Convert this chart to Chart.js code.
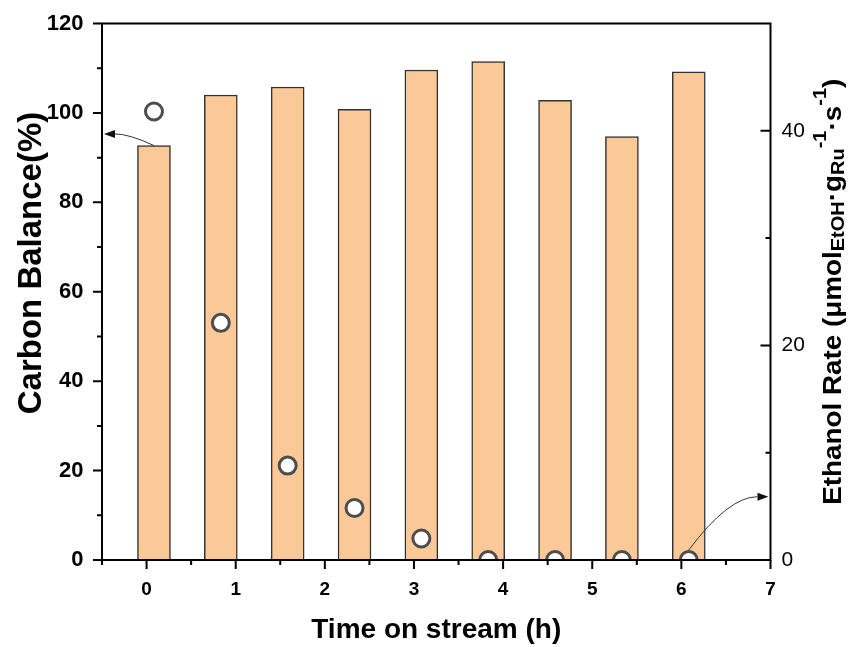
<!DOCTYPE html>
<html><head><meta charset="utf-8">
<script src="https://cdn.jsdelivr.net/npm/chart.js@4/dist/chart.umd.min.js"></script>
<style>html,body{margin:0;padding:0;background:#fff;}</style>
</head><body>
<canvas id="c" width="851" height="647"></canvas>
<script>
// ---- data ----
const timeHours = [0.083, 0.833, 1.583, 2.333, 3.083, 3.833, 4.583, 5.333, 6.083];
const carbonBalance = [92.7, 104.0, 105.8, 100.8, 109.6, 111.5, 102.8, 94.7, 109.2];
const ethanolRate = [41.8, 22.1, 8.8, 4.85, 2.0, 0, 0, 0, 0];
const xTickValues = [0, 1, 2, 3, 4, 5, 6, 7];
const xMinorValues = [-0.5, 0.5, 1.5, 2.5, 3.5, 4.5, 5.5, 6.5];
const leftTickValues = [0, 20, 40, 60, 80, 100, 120];
const leftMinorValues = [10, 30, 50, 70, 90, 110];
const rightTickValues = [0, 20, 40];
const rightMinorValues = [10, 30];
const leftArrowTarget = 95.3;   // carbon balance axis
const rightArrowTarget = 5.9;   // ethanol rate axis

const FONT = "'Liberation Sans', Arial, sans-serif";

function drawArrow(ctx, x0, y0, x1, y1) {
  const cx = x0 + 0.5 * (x1 - x0), cy = y1;
  const dir = Math.sign(x1 - cx) || 1;
  const L = 11, W = 4;
  ctx.beginPath();
  ctx.moveTo(x0, y0);
  ctx.quadraticCurveTo(cx, cy, x1 - dir * L, y1);
  ctx.stroke();
  ctx.beginPath();
  ctx.moveTo(x1, y1);
  ctx.lineTo(x1 - dir * L, y1 - W);
  ctx.lineTo(x1 - dir * L, y1 + W);
  ctx.closePath();
  ctx.fill();
}

function drawRotatedTitle(ctx, cx, cy, segs, size, stretch) {
  ctx.save();
  ctx.translate(cx, cy);
  ctx.rotate(-Math.PI / 2);
  ctx.scale(stretch, 1);
  ctx.fillStyle = '#000';
  ctx.textBaseline = 'alphabetic';
  ctx.textAlign = 'left';
  let total = 0;
  const parts = segs.map(s => {
    const fs = s.k === 'n' ? size : size * 0.72;
    ctx.font = `bold ${fs}px ${FONT}`;
    const w = ctx.measureText(s.t).width;
    total += w;
    return {t: s.t, k: s.k, fs, w};
  });
  let x = -total / 2;
  const base = size * 0.36;
  parts.forEach(p => {
    ctx.font = `bold ${p.fs}px ${FONT}`;
    let dy = 0;
    if (p.k === 'sub') dy = size * 0.1;
    if (p.k === 'sup') dy = -size * 0.58;
    ctx.fillText(p.t, x, base + dy);
    x += p.w;
  });
  ctx.restore();
}

const decor = {
  id: 'decor',
  afterDraw(chart) {
    const ctx = chart.ctx, a = chart.chartArea;
    const xs = chart.scales.x, yl = chart.scales.y, yr = chart.scales.y1;
    ctx.save();
    ctx.strokeStyle = '#000';
    ctx.lineWidth = 2;
    ctx.strokeRect(a.left, a.top, a.right - a.left, a.bottom - a.top);
    ctx.beginPath();
    leftTickValues.forEach(v => { const y = yl.getPixelForValue(v); ctx.moveTo(a.left - 9, y); ctx.lineTo(a.left, y); });
    leftMinorValues.forEach(v => { const y = yl.getPixelForValue(v); ctx.moveTo(a.left - 5, y); ctx.lineTo(a.left, y); });
    xTickValues.forEach(v => { const x = xs.getPixelForValue(v); ctx.moveTo(x, a.bottom); ctx.lineTo(x, a.bottom + 9); });
    xMinorValues.forEach(v => { const x = xs.getPixelForValue(v); ctx.moveTo(x, a.bottom); ctx.lineTo(x, a.bottom + 5); });
    rightTickValues.forEach(v => { const y = yr.getPixelForValue(v); ctx.moveTo(a.right - 10, y); ctx.lineTo(a.right, y); });
    rightMinorValues.forEach(v => { const y = yr.getPixelForValue(v); ctx.moveTo(a.right - 5, y); ctx.lineTo(a.right, y); });
    ctx.stroke();

    // annotation arrows
    ctx.strokeStyle = '#333';
    ctx.fillStyle = '#111';
    ctx.lineWidth = 1;
    drawArrow(ctx, xs.getPixelForValue(timeHours[0]), yl.getPixelForValue(carbonBalance[0]),
              a.left + 2, yl.getPixelForValue(leftArrowTarget));
    const n = timeHours.length - 1;
    drawArrow(ctx, xs.getPixelForValue(timeHours[n]), yr.getPixelForValue(ethanolRate[n]) - 10,
              a.right - 2, yr.getPixelForValue(rightArrowTarget));
    ctx.restore();

    // axis titles (left and right)
    drawRotatedTitle(ctx, 29, 263, [{t: 'Carbon Balance(%)', k: 'n'}], 33, 1.0);
    drawRotatedTitle(ctx, 832, (a.top + a.bottom) / 2, [
      {t: 'Ethanol Rate (\u03bcmol', k: 'n'},
      {t: 'EtOH', k: 'sub'},
      {t: '\u00b7g', k: 'n'},
      {t: 'Ru', k: 'sub'},
      {t: '-1', k: 'sup'},
      {t: '\u00b7s', k: 'n'},
      {t: '-1', k: 'sup'},
      {t: ')', k: 'n'}
    ], 26, 1.07);
  }
};

const chart = new Chart(document.getElementById('c'), {
  type: 'bar',
  data: {
    datasets: [
      {
        type: 'scatter', label: 'Ethanol Rate',
        data: timeHours.map((t, i) => ({x: t, y: ethanolRate[i]})),
        xAxisID: 'x', yAxisID: 'y1',
        pointRadius: 8.5, pointBorderWidth: 3,
        pointBackgroundColor: '#ffffff', pointBorderColor: '#4d4d4d',
        showLine: false, clip: 0, order: 0
      },
      {
        type: 'bar', label: 'Carbon Balance',
        data: timeHours.map((t, i) => ({x: t, y: carbonBalance[i]})),
        xAxisID: 'x', yAxisID: 'y',
        backgroundColor: '#FBC897', borderColor: '#333333', borderWidth: 1.5,
        barThickness: 33, order: 1
      }
    ]
  },
  options: {
    responsive: false, animation: false, devicePixelRatio: 1,
    layout: {padding: {top: 23.5, left: 0, right: 0, bottom: 0}},
    plugins: {legend: {display: false}, tooltip: {enabled: false}},
    scales: {
      x: {
        type: 'linear', position: 'bottom', min: -0.5, max: 7, offset: false,
        afterBuildTicks(s) { s.ticks = xTickValues.map(v => ({value: v})); },
        afterFit(s) { s.height = 87; },
        grid: {display: false, drawTicks: true, tickLength: 18, offset: false}, border: {display: false},
        ticks: {font: {family: FONT, size: 19, weight: 'bold'}, color: '#000', padding: 0, maxRotation: 0},
        title: {display: true, text: 'Time on stream (h)', color: '#000',
                font: {family: FONT, size: 28, weight: 'bold'}, padding: {top: 0, bottom: 0}}
      },
      y: {
        type: 'linear', position: 'left', min: 0, max: 120,
        afterBuildTicks(s) { s.ticks = leftTickValues.map(v => ({value: v})); },
        afterFit(s) { s.width = 102; },
        grid: {display: false, drawTicks: true, tickLength: 18.5}, border: {display: false},
        ticks: {font: {family: FONT, size: 22, weight: 'bold'}, color: '#000', padding: 0}
      },
      y1: {
        type: 'linear', position: 'right', min: 0, max: 50,
        afterBuildTicks(s) { s.ticks = rightTickValues.map(v => ({value: v})); },
        afterFit(s) { s.width = 80.5; },
        grid: {display: false, drawTicks: true, tickLength: 11}, border: {display: false},
        ticks: {font: {family: FONT, size: 21, weight: 'normal'}, color: '#000', padding: 0}
      }
    }
  },
  plugins: [decor]
});
</script>
</body></html>
